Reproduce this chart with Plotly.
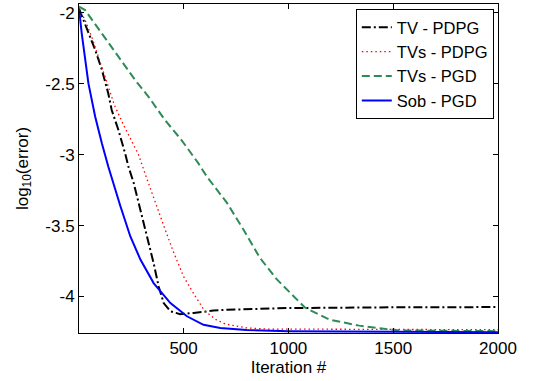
import plotly.graph_objects as go

# ---- data ----
tv_pdpg_it = [1, 46, 78, 110, 141, 157, 189, 221, 237, 262, 294, 326, 357, 381, 405, 437, 484, 548, 643, 707, 1000, 1500, 2000]
tv_pdpg_val = [-1.97, -2.145, -2.26, -2.40, -2.57, -2.685, -2.826, -2.99, -3.085, -3.20, -3.39, -3.577, -3.765, -3.93, -4.047, -4.105, -4.125, -4.117, -4.10, -4.094, -4.082, -4.077, -4.075]

tvs_pdpg_it = [1, 30, 62, 94, 135, 170, 210, 250, 285, 320, 360, 405, 450, 500, 556, 600, 650, 700, 800, 900, 2000]
tvs_pdpg_val = [-1.97, -2.05, -2.17, -2.31, -2.50, -2.65, -2.78, -2.90, -3.00, -3.15, -3.32, -3.50, -3.68, -3.86, -4.00, -4.10, -4.16, -4.195, -4.222, -4.23, -4.235]

tvs_pgd_it = [1, 30, 110, 189, 269, 332, 411, 490, 570, 611, 707, 786, 865, 945, 1024, 1080, 1199, 1278, 1338, 1465, 1532, 2000]
tvs_pgd_val = [-1.955, -1.98, -2.145, -2.31, -2.474, -2.59, -2.755, -2.897, -3.06, -3.155, -3.34, -3.53, -3.73, -3.88, -4.0, -4.08, -4.165, -4.19, -4.206, -4.23, -4.24, -4.245]

sob_pgd_it = [1, 14, 46, 78, 110, 141, 199, 246, 294, 357, 437, 516, 595, 675, 800, 1000, 1500, 2000]
sob_pgd_val = [-1.97, -2.145, -2.497, -2.73, -2.92, -3.085, -3.365, -3.577, -3.74, -3.906, -4.047, -4.14, -4.20, -4.222, -4.237, -4.245, -4.25, -4.252]

x_ticks = [500, 1000, 1500, 2000]
x_ticktext = ["500", "1000", "1500", "2000"]
y_ticks = [-4, -3.5, -3, -2.5, -2]
y_ticktext = ["-4", "-3.5", "-3", "-2.5", "-2"]

FONT = "Liberation Sans, Arial, Helvetica, sans-serif"
FS = 17

fig = go.Figure()
fig.add_trace(go.Scatter(x=tv_pdpg_it, y=tv_pdpg_val, mode="lines", name="TV - PDPG",
                         legendgroup="a",
                         line=dict(color="black", width=2, dash="9px,3px,2px,3px")))
fig.add_trace(go.Scatter(x=tvs_pdpg_it, y=tvs_pdpg_val, mode="lines", name="TVs - PDPG",
                         legendgroup="b",
                         line=dict(color="red", width=1.3, dash="1.5px,3px")))
fig.add_trace(go.Scatter(x=tvs_pgd_it, y=tvs_pgd_val, mode="lines", name="TVs - PGD",
                         legendgroup="c",
                         line=dict(color="#2e8b57", width=2, dash="8px,4px")))
fig.add_trace(go.Scatter(x=sob_pgd_it, y=sob_pgd_val, mode="lines", name="Sob - PGD",
                         legendgroup="d",
                         line=dict(color="blue", width=2)))

fig.update_layout(
    width=533, height=381,
    margin=dict(l=79, r=35, t=4, b=48),
    paper_bgcolor="white", plot_bgcolor="white",
    font=dict(family=FONT, size=FS, color="black"),
    showlegend=True,
    legend=dict(x=0.990, y=0.985, xanchor="right", yanchor="top",
                bordercolor="black", borderwidth=1, bgcolor="white",
                font=dict(family=FONT, size=16.5, color="black"),
                entrywidth=150, entrywidthmode="pixels",
                tracegroupgap=0),
    xaxis=dict(range=[1, 2000], tickvals=x_ticks, ticktext=x_ticktext,
               ticks="inside", ticklen=5, tickcolor="black",
               showline=True, linecolor="black", linewidth=1, mirror="ticks",
               showgrid=False, zeroline=False,
               title=dict(text="Iteration #", font=dict(family=FONT, size=FS), standoff=2)),
    yaxis=dict(range=[-4.258, -1.937], tickvals=y_ticks, ticktext=y_ticktext,
               ticks="inside", ticklen=5, tickcolor="black",
               showline=True, linecolor="black", linewidth=1, mirror="ticks",
               showgrid=False, zeroline=False,
               title=dict(text="log<sub>10</sub>(error)", font=dict(family=FONT, size=FS), standoff=12)),
)

fig.write_html("out.html", config={"displayModeBar": False},
               post_script="document.body.style.margin='0';document.body.style.overflow='hidden';")
